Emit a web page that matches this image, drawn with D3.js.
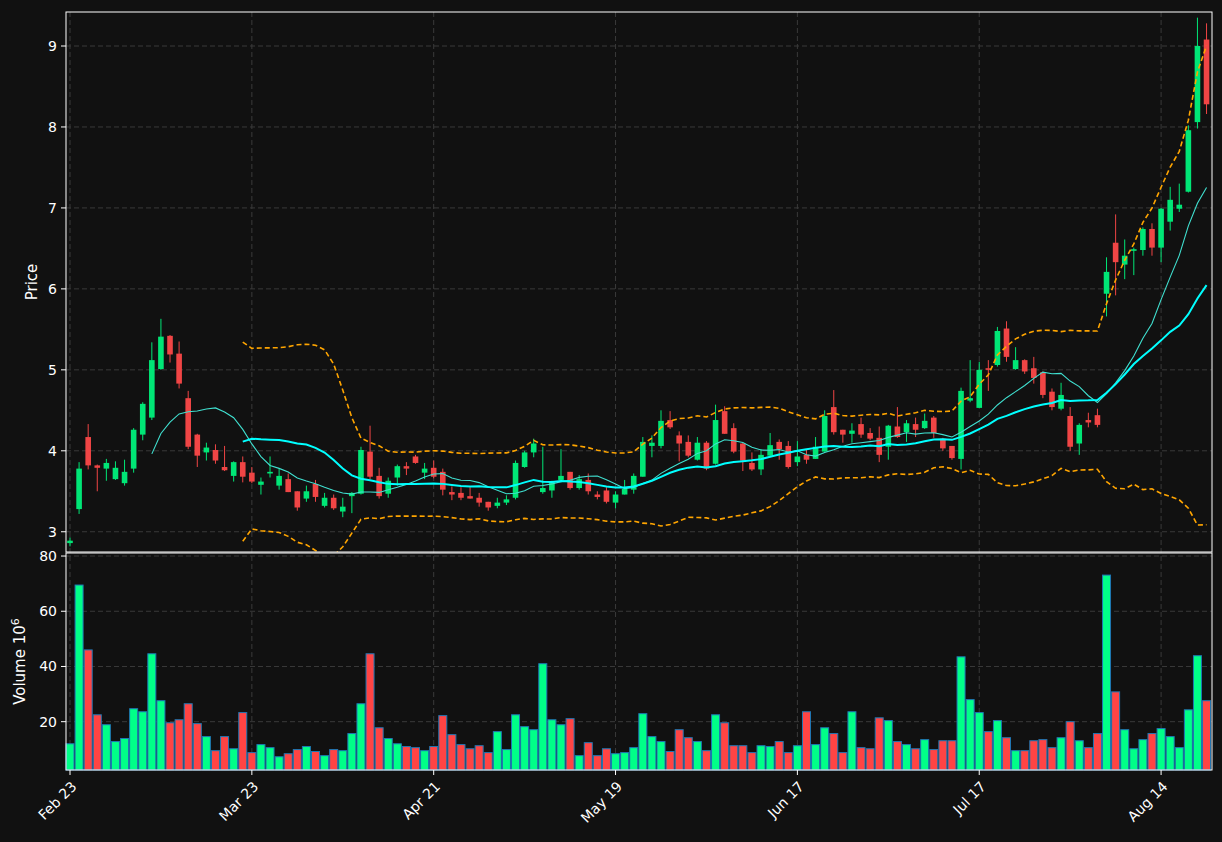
<!DOCTYPE html>
<html><head><meta charset="utf-8">
<script src="https://cdn.jsdelivr.net/npm/d3@7"></script>
<style>body{margin:0;background:#111111;}svg{display:block;font-family:"DejaVu Sans",sans-serif;}</style>
</head><body><svg id="c" width="1222" height="842"></svg>
<script>
const opens  = [2.86,3.28,4.17,3.82,3.78,3.65,3.60,3.78,4.20,4.41,5.01,5.42,5.20,4.65,4.20,3.98,4.01,3.80,3.69,3.86,
3.73,3.58,3.72,3.57,3.65,3.50,3.41,3.59,3.32,3.42,3.25,3.44,3.47,3.99,3.69,3.47,3.67,3.81,3.93,3.73,
3.79,3.74,3.49,3.48,3.44,3.42,3.37,3.32,3.36,3.42,3.80,3.98,3.49,3.51,3.64,3.74,3.54,3.64,3.46,3.51,
3.36,3.46,3.52,3.68,4.06,4.06,4.38,4.19,4.11,3.89,4.10,3.84,4.49,4.28,4.09,3.85,3.77,3.94,4.11,4.06,
3.86,3.95,3.90,3.99,4.54,4.26,4.21,4.33,4.22,4.16,4.05,4.30,4.23,4.33,4.28,4.41,4.15,4.06,3.90,4.62,
4.53,5.02,5.06,5.51,5.01,5.12,5.02,4.97,4.73,4.52,4.43,4.09,4.38,4.44,5.94,6.57,6.30,6.47,6.48,6.74,
6.51,6.83,6.99,7.20,8.06,9.08];
const highs  = [2.93,3.86,4.33,3.83,3.90,3.87,3.89,4.28,4.60,5.34,5.63,5.43,5.35,4.74,4.21,4.10,4.08,4.06,3.87,3.93,
3.80,3.67,3.93,3.78,3.72,3.50,3.57,3.64,3.48,3.46,3.42,3.49,4.05,4.31,3.79,3.67,3.83,3.86,3.95,3.85,
3.88,3.78,3.56,3.55,3.55,3.48,3.37,3.42,3.45,3.88,4.00,4.15,4.05,3.63,4.02,3.74,3.70,3.72,3.50,3.55,
3.50,3.64,3.72,4.17,4.19,4.50,4.49,4.24,4.19,4.17,4.12,4.57,4.55,4.34,4.10,3.98,4.02,4.22,4.14,4.12,
4.12,4.01,4.17,4.50,4.75,4.26,4.34,4.41,4.28,4.30,4.32,4.54,4.38,4.41,4.46,4.43,4.16,4.06,4.78,5.12,
5.10,5.12,5.53,5.60,5.28,5.13,5.16,4.98,4.77,4.84,4.54,4.34,4.47,4.52,6.39,6.92,6.61,6.51,6.76,6.81,
7.00,7.26,7.30,8.02,9.35,9.28];
const lows   = [2.82,3.22,3.77,3.50,3.63,3.64,3.57,3.73,4.13,4.38,5.00,5.09,4.77,4.02,3.80,3.88,3.84,3.75,3.62,3.61,
3.60,3.46,3.67,3.52,3.49,3.26,3.37,3.37,3.30,3.27,3.18,3.23,3.46,3.65,3.41,3.42,3.57,3.70,3.84,3.65,
3.66,3.45,3.39,3.39,3.41,3.31,3.26,3.29,3.33,3.40,3.79,3.92,3.47,3.42,3.62,3.52,3.52,3.46,3.40,3.35,
3.29,3.46,3.47,3.68,3.92,4.03,4.27,3.87,3.92,3.88,3.76,3.83,4.21,3.97,3.75,3.75,3.70,3.94,3.89,3.78,
3.81,3.84,3.90,3.99,4.20,4.10,4.10,4.16,4.13,3.86,3.89,4.16,4.11,4.17,4.27,4.16,4.00,3.89,3.77,4.60,
4.53,4.74,5.04,5.10,5.00,4.95,4.83,4.65,4.50,4.50,4.00,3.95,4.29,4.29,5.66,5.92,6.12,6.17,6.41,6.41,
6.33,6.72,6.95,7.19,7.98,8.16];
const closes = [2.89,3.78,3.82,3.79,3.85,3.79,3.74,4.26,4.58,5.12,5.41,5.19,4.83,4.05,3.94,4.04,3.88,3.76,3.86,3.68,
3.62,3.62,3.74,3.69,3.49,3.30,3.50,3.43,3.42,3.29,3.31,3.48,4.01,3.68,3.44,3.63,3.81,3.78,3.85,3.78,
3.68,3.52,3.46,3.42,3.41,3.36,3.30,3.36,3.40,3.85,3.98,4.09,3.54,3.62,3.69,3.54,3.65,3.50,3.43,3.37,
3.46,3.53,3.69,4.11,4.10,4.37,4.29,4.09,3.94,4.10,3.78,4.38,4.21,3.99,3.88,3.77,3.95,4.07,4.02,3.80,
3.93,3.89,4.05,4.43,4.23,4.20,4.25,4.20,4.15,3.95,4.31,4.17,4.34,4.26,4.37,4.22,4.03,3.91,4.74,4.65,
5.00,5.00,5.48,5.16,5.12,4.98,4.90,4.69,4.54,4.69,4.05,4.32,4.35,4.32,6.21,6.33,6.41,6.49,6.74,6.51,
6.99,7.10,7.04,7.96,9.00,8.28];
const volumes = [12.0,69.5,46.0,22.5,18.9,12.8,13.9,24.7,23.6,44.6,27.6,19.6,20.7,26.5,19.3,14.6,9.5,14.6,10.2,23.3,
8.8,11.7,10.6,7.3,8.4,9.9,11.0,9.2,7.7,9.9,9.5,15.7,26.5,44.6,17.8,13.9,12.0,11.0,10.6,9.5,
11.0,22.2,15.3,11.7,10.2,11.3,8.8,16.4,9.9,22.5,18.2,17.1,41.0,20.7,18.9,21.1,7.7,12.4,7.7,10.2,
8.4,8.8,10.6,22.9,14.6,12.8,9.2,17.1,14.2,12.8,9.5,22.5,19.6,11.3,11.3,8.8,11.3,11.0,12.8,8.8,
11.3,23.6,11.7,17.8,15.7,8.8,23.6,10.6,10.2,21.4,20.4,12.8,11.7,10.2,13.5,9.9,13.1,13.1,43.5,28.0,
23.3,16.4,20.4,14.2,9.5,9.5,13.1,13.5,10.6,14.2,20.0,13.1,10.6,15.7,73.1,30.8,17.1,10.2,13.5,15.7,
17.5,14.6,10.6,24.3,43.9,27.6];
const tickIdx = [0,20,40,60,80,100,120];
const tickLabels = ["Feb 23","Mar 23","Apr 21","May 19","Jun 17","Jul 17","Aug 14"];
const priceTicks = [3,4,5,6,7,8,9];
const volTicks = [20,40,60,80];

const svg = d3.select("#c");
const L=66,R=1212,PT=12,PB=552,VT=553,VB=770;
const n = closes.length;
const x = d3.scaleLinear().domain([-0.44,125.6]).range([L,R]);
const y = d3.scaleLinear().domain([2.75,9.42]).range([PB,PT]);
const yv = d3.scaleLinear().domain([2.5,81.1]).range([VB,VT]);
const GREEN="#00e676", RED="#f04545", VGREEN="#00ff88", VRED="#ff4444";

function grid(g, ys, sc){
  g.selectAll(".h").data(ys).join("line").attr("x1",L).attr("x2",R).attr("y1",d=>sc(d)).attr("y2",d=>sc(d))
   .attr("stroke","#3a3a3a").attr("stroke-dasharray","5,3");
}
const gp = svg.append("g"); grid(gp, priceTicks, y);
const gv = svg.append("g"); grid(gv, volTicks, yv);
svg.append("g").selectAll("line").data(tickIdx).join("line").attr("x1",d=>x(d)).attr("x2",d=>x(d))
  .attr("y1",PT).attr("y2",VB).attr("stroke","#3a3a3a").attr("stroke-dasharray","5,3");

// moving averages & bands
function sma(p){return closes.map((c,i)=>i<p-1?null:d3.mean(closes.slice(i-p+1,i+1)));}
const ma10=sma(10), ma20=sma(20);
const sd20=closes.map((c,i)=>i<19?null:d3.deviation(closes.slice(i-19,i+1)));
const up=ma20.map((m,i)=>m==null?null:m+2*sd20[i]), lo=ma20.map((m,i)=>m==null?null:m-2*sd20[i]);
const clip = svg.append("clipPath").attr("id","pc").append("rect").attr("x",L).attr("y",PT).attr("width",R-L).attr("height",PB-PT);
const line = d3.line().defined(d=>d!=null).x((d,i)=>x(i)).y(d=>y(d)).curve(d3.curveLinear);
const lg = svg.append("g").attr("clip-path","url(#pc)");

// candles
const cg = lg.append("g");
d3.range(n).forEach(i=>{
  const col = closes[i]>=opens[i]?GREEN:RED;
  cg.append("line").attr("x1",x(i)).attr("x2",x(i)).attr("y1",y(highs[i])).attr("y2",y(lows[i])).attr("stroke",col).attr("stroke-width",1);
  const t=y(Math.max(opens[i],closes[i])), b=y(Math.min(opens[i],closes[i]));
  cg.append("rect").attr("x",x(i)-2.8).attr("width",5.6).attr("y",t).attr("height",Math.max(1,b-t)).attr("fill",col);
});
lg.append("path").attr("d",line(ma10)).attr("fill","none").attr("stroke","#40e0d0").attr("stroke-width",1.1);
lg.append("path").attr("d",line(ma20)).attr("fill","none").attr("stroke","#00ffff").attr("stroke-width",2);
[up,lo].forEach(b=>lg.append("path").attr("d",line(b)).attr("fill","none").attr("stroke","#ffa500").attr("stroke-width",1.6).attr("stroke-dasharray","5,3"));

// volume
svg.append("g").selectAll("rect").data(volumes).join("rect")
  .attr("x",(d,i)=>x(i)-4).attr("width",8).attr("y",d=>yv(d)).attr("height",d=>VB-yv(d))
  .attr("fill",(d,i)=>closes[i]>=opens[i]?VGREEN:VRED).attr("stroke","#1f77b4").attr("stroke-width",1);

// frames
[[PT,PB],[VT,VB]].forEach(([t,b])=>svg.append("rect").attr("x",L).attr("y",t).attr("width",R-L).attr("height",b-t).attr("fill","none").attr("stroke","#ffffff").attr("stroke-width",1));

// axes
const ax = svg.append("g").attr("fill","#ffffff").attr("font-size",14);
priceTicks.forEach(t=>{ax.append("line").attr("x1",L-5).attr("x2",L).attr("y1",y(t)).attr("y2",y(t)).attr("stroke","#fff");
  ax.append("text").attr("x",L-9).attr("y",y(t)).attr("dy","0.35em").attr("text-anchor","end").text(t);});
volTicks.forEach(t=>{ax.append("line").attr("x1",L-5).attr("x2",L).attr("y1",yv(t)).attr("y2",yv(t)).attr("stroke","#fff");
  ax.append("text").attr("x",L-9).attr("y",yv(t)).attr("dy","0.35em").attr("text-anchor","end").text(t);});
tickIdx.forEach((t,k)=>{ax.append("line").attr("x1",x(t)).attr("x2",x(t)).attr("y1",VB).attr("y2",VB+5).attr("stroke","#fff");
  ax.append("text").attr("transform",`translate(${x(t)+4},${VB+14}) rotate(-45)`).attr("text-anchor","end").attr("dy","0.35em").text(tickLabels[k]);});
ax.append("text").attr("transform",`translate(37,${(PT+PB)/2}) rotate(-90)`).attr("text-anchor","middle").attr("font-size",15).text("Price");
const vt = ax.append("text").attr("transform",`translate(25,${(VT+VB)/2}) rotate(-90)`).attr("text-anchor","middle").attr("font-size",15);
vt.append("tspan").text("Volume  10");
vt.append("tspan").attr("dy",-6).attr("font-size",11).text("6");
</script></body></html>
